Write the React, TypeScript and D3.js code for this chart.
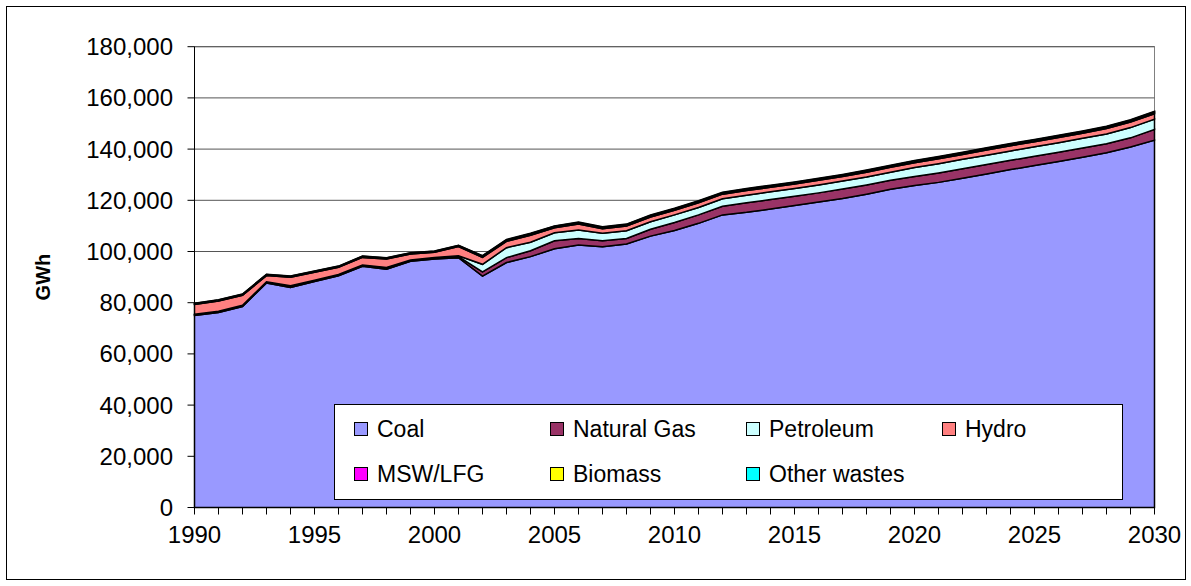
import React from "react";
import * as d3 from "d3";

const years = [
  1990, 1991, 1992, 1993, 1994, 1995, 1996, 1997, 1998, 1999,
  2000, 2001, 2002, 2003, 2004, 2005, 2006, 2007, 2008, 2009,
  2010, 2011, 2012, 2013, 2014, 2015, 2016, 2017, 2018, 2019,
  2020, 2021, 2022, 2023, 2024, 2025, 2026, 2027, 2028, 2029, 2030,
];

const coal = [
  75000, 76200, 78500, 87700, 85900, 88300, 90500, 94200, 93100, 96200,
  97100, 97600, 90400, 95700, 98000, 101100, 102500, 101900, 102900, 106000,
  108200, 111000, 114300, 115300, 116600, 118000, 119300, 120700, 122400, 124300,
  125800, 127000, 128600, 130300, 132000, 133600, 135200, 136800, 138600, 140800, 143500,
];
const naturalGas = [
  300, 300, 300, 300, 400, 300, 300, 300, 400, 300,
  300, 400, 1600, 1900, 2300, 3100, 2600, 2300, 2200, 2700,
  3100, 3300, 3400, 3700, 3700, 3600, 3600, 3700, 3600, 3500,
  3500, 3700, 3700, 3700, 3600, 3600, 3600, 3600, 3500, 3600, 4200,
];
const petroleum = [
  200, 200, 200, 200, 300, 200, 200, 200, 300, 200,
  300, 300, 3000, 3900, 3300, 3100, 3300, 2900, 3000, 2900,
  3000, 2900, 2900, 3000, 3000, 3000, 3100, 3100, 3100, 3200,
  3500, 3600, 3700, 3600, 3700, 3700, 3700, 3800, 3800, 4000, 4000,
];
const hydro = [
  3800, 4000, 3900, 2400, 3300, 3100, 2800, 3000, 3300, 2300,
  2000, 3600, 2700, 2500, 2700, 2000, 2300, 1800, 1900, 1900,
  1800, 1800, 1800, 1800, 1800, 1800, 1800, 1800, 1900, 1900,
  1900, 1900, 1900, 2000, 2000, 2000, 2000, 2000, 2100, 2200, 2100,
];
const mswLfg = [
  200, 200, 200, 200, 200, 200, 200, 200, 200, 200,
  200, 200, 300, 300, 300, 300, 300, 300, 300, 300,
  300, 300, 300, 300, 300, 300, 300, 300, 300, 300,
  350, 350, 350, 350, 350, 350, 350, 350, 350, 350, 400,
];
const biomass = [
  200, 200, 200, 200, 200, 200, 200, 200, 200, 200,
  200, 200, 250, 250, 300, 250, 300, 300, 250, 300,
  300, 300, 300, 300, 300, 300, 300, 300, 300, 300,
  350, 350, 350, 350, 350, 350, 350, 350, 350, 350, 400,
];
const otherWastes = [
  100, 100, 100, 100, 100, 100, 100, 100, 100, 100,
  100, 100, 150, 150, 200, 150, 200, 200, 150, 200,
  200, 200, 200, 200, 200, 200, 200, 200, 200, 200,
  200, 200, 200, 200, 200, 200, 200, 200, 200, 200, 200,
];

const seriesNames = ["Coal", "Natural Gas", "Petroleum", "Hydro", "MSW/LFG", "Biomass", "Other wastes"];
const seriesColors = ["#9999FF", "#993366", "#CCFFFF", "#FF8080", "#FF00FF", "#FFFF00", "#00FFFF"];
const seriesValues = [coal, naturalGas, petroleum, hydro, mswLfg, biomass, otherWastes];

const yTicks = [0, 20000, 40000, 60000, 80000, 100000, 120000, 140000, 160000, 180000];
const xTickLabels = [1990, 1995, 2000, 2005, 2010, 2015, 2020, 2025, 2030];
const yLabel = "GWh";

const W = 1191;
const H = 586;
const FONT = "'Liberation Sans', Arial, Helvetica, sans-serif";

export default function App() {
  const left = 194.5;
  const right = 1154.5;
  const top = 46.7;
  const bottom = 507.5;

  const x = d3.scaleLinear().domain([1990, 2030]).range([left, right]);
  const y = d3.scaleLinear().domain([0, 180000]).range([bottom, top]);

  const rows = years.map((yr, i) => {
    const r: any = { year: yr };
    seriesNames.forEach((n, k) => (r[n] = seriesValues[k][i]));
    return r;
  });
  const stacked = d3.stack().keys(seriesNames)(rows);
  const area = d3
    .area<any>()
    .x((d) => x(d.data.year))
    .y0((d) => y(d[0]))
    .y1((d) => y(d[1]));

  const legendX = 334.5;
  const legendY = 404.5;
  const legendW = 788;
  const legendH = 95;
  const colX = [354, 550, 746, 942];
  const rowY = [429, 474];

  return (
    <svg
      width={W}
      height={H}
      style={{ position: "absolute", left: 0, top: 0, background: "#fff" }}
      fontFamily={FONT}
    >
      <rect x={0} y={0} width={W} height={H} fill="#fff" />
      <rect x={6.5} y={6.5} width={1179} height={573} fill="none" stroke="#000" strokeWidth={1} />

      {/* plot area border (right side visible) */}
      <rect x={left} y={top} width={right - left} height={bottom - top} fill="none" stroke="#808080" strokeWidth={1} />

      {/* gridlines */}
      {yTicks.slice(1).map((t) => (
        <line key={"g" + t} x1={left} x2={right} y1={y(t)} y2={y(t)} stroke="#555" strokeWidth={1} />
      ))}

      {/* areas */}
      {stacked.map((s, k) => (
        <path
          key={seriesNames[k]}
          d={area(s as any) || ""}
          fill={seriesColors[k]}
          stroke="#000"
          strokeWidth={1.5}
          strokeLinejoin="miter"
        />
      ))}

      {/* axes */}
      <line x1={left} x2={left} y1={top} y2={bottom} stroke="#000" strokeWidth={1} />
      <line x1={left} x2={right} y1={bottom} y2={bottom} stroke="#000" strokeWidth={1} />
      {yTicks.map((t) => (
        <g key={"yt" + t}>
          <line x1={left - 7} x2={left} y1={y(t)} y2={y(t)} stroke="#000" strokeWidth={1} />
          <text x={173} y={y(t)} dy="0.35em" textAnchor="end" fontSize={24} fill="#000">
            {d3.format(",")(t)}
          </text>
        </g>
      ))}
      {years.map((yr) => (
        <line key={"xt" + yr} x1={x(yr)} x2={x(yr)} y1={bottom} y2={bottom + 7} stroke="#000" strokeWidth={1} />
      ))}
      {xTickLabels.map((yr) => (
        <text key={"xl" + yr} x={x(yr)} y={535} dy="0.35em" textAnchor="middle" fontSize={24} fill="#000">
          {yr}
        </text>
      ))}

      <text
        transform={`translate(43,${(top + bottom) / 2}) rotate(-90)`}
        textAnchor="middle"
        dy="0.35em"
        fontSize={20}
        fontWeight="bold"
        fill="#000"
      >
        {yLabel}
      </text>

      {/* legend */}
      <rect x={legendX} y={legendY} width={legendW} height={legendH} fill="#fff" stroke="#000" strokeWidth={1} />
      {seriesNames.map((n, k) => {
        const r = k < 4 ? 0 : 1;
        const c = k < 4 ? k : k - 4;
        return (
          <g key={"lg" + n}>
            <rect x={colX[c] + 0.5} y={rowY[r] - 6.5} width={13} height={13} fill={seriesColors[k]} stroke="#000" strokeWidth={1} />
            <text x={colX[c] + 23} y={rowY[r]} dy="0.35em" fontSize={23} fill="#000">
              {n}
            </text>
          </g>
        );
      })}
    </svg>
  );
}
